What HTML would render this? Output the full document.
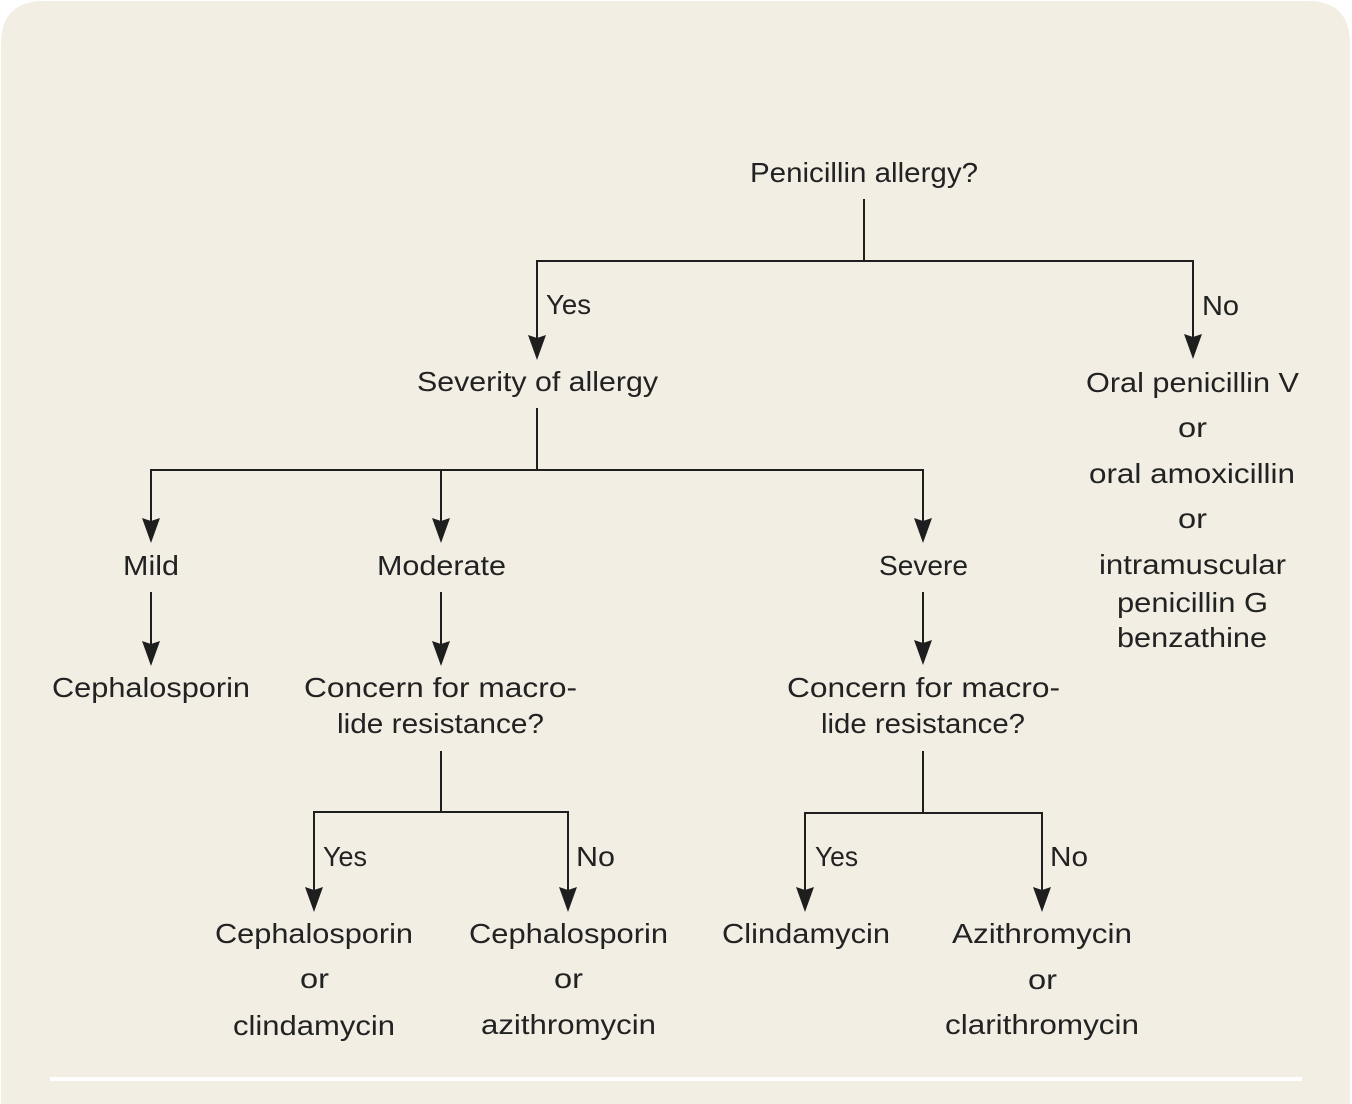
<!DOCTYPE html>
<html>
<head>
<meta charset="utf-8">
<style>
html,body{margin:0;padding:0;background:#ffffff;}
body{width:1352px;height:1104px;overflow:hidden;}
svg{display:block;}
text{font-family:"Liberation Sans", sans-serif;font-size:28px;fill:#222222;}
</style>
</head>
<body>
<svg width="1352" height="1104" viewBox="0 0 1352 1104" xmlns="http://www.w3.org/2000/svg">
  <path d="M1,1104 L1,44 Q1,1 44,1 L1308,1 Q1350,1 1350,44 L1350,1104 Z" fill="#f2eee4"/>
  <rect x="50" y="1077" width="1252" height="4" fill="#ffffff"/>

  <g stroke="#1e1e1e" stroke-width="2" fill="none">
    <line x1="864" y1="199" x2="864" y2="262"/>
    <line x1="537" y1="261" x2="1194" y2="261"/>
    <line x1="537" y1="260" x2="537" y2="345"/>
    <line x1="1193" y1="260" x2="1193" y2="345"/>

    <line x1="537" y1="408" x2="537" y2="471"/>
    <line x1="150" y1="470" x2="924" y2="470"/>
    <line x1="151" y1="469" x2="151" y2="528"/>
    <line x1="441" y1="469" x2="441" y2="528"/>
    <line x1="923" y1="469" x2="923" y2="528"/>

    <line x1="151" y1="592" x2="151" y2="650"/>
    <line x1="441" y1="592" x2="441" y2="650"/>
    <line x1="923" y1="592" x2="923" y2="650"/>

    <line x1="441" y1="751" x2="441" y2="813"/>
    <line x1="313" y1="812" x2="569" y2="812"/>
    <line x1="314" y1="811" x2="314" y2="897"/>
    <line x1="568" y1="811" x2="568" y2="897"/>

    <line x1="923" y1="751" x2="923" y2="814"/>
    <line x1="804" y1="813" x2="1043" y2="813"/>
    <line x1="805" y1="812" x2="805" y2="897"/>
    <line x1="1042" y1="812" x2="1042" y2="897"/>
  </g>

  <g fill="#1e1e1e">
    <path d="M528,335 L537,338 L546,335 L537,360 Z"/>
    <path d="M1184,334 L1193,337 L1202,334 L1193,359 Z"/>
    <path d="M142,518 L151,521 L160,518 L151,543 Z"/>
    <path d="M432,518 L441,521 L450,518 L441,543 Z"/>
    <path d="M914,518 L923,521 L932,518 L923,543 Z"/>
    <path d="M142,641 L151,644 L160,641 L151,666 Z"/>
    <path d="M432,641 L441,644 L450,641 L441,666 Z"/>
    <path d="M914,640 L923,643 L932,640 L923,665 Z"/>
    <path d="M305,887 L314,890 L323,887 L314,912 Z"/>
    <path d="M559,887 L568,890 L577,887 L568,912 Z"/>
    <path d="M796,887 L805,890 L814,887 L805,912 Z"/>
    <path d="M1033,887 L1042,890 L1051,887 L1042,912 Z"/>
  </g>

  <g>
    <text x="750" y="182" textLength="228" lengthAdjust="spacingAndGlyphs">Penicillin allergy?</text>
    <text x="546" y="314" textLength="45" lengthAdjust="spacingAndGlyphs">Yes</text>
    <text x="1202" y="315" textLength="37" lengthAdjust="spacingAndGlyphs">No</text>
    <text x="417" y="391" textLength="241" lengthAdjust="spacingAndGlyphs">Severity of allergy</text>

    <text x="1086" y="392" textLength="213" lengthAdjust="spacingAndGlyphs">Oral penicillin V</text>
    <text x="1178" y="437" textLength="29" lengthAdjust="spacingAndGlyphs">or</text>
    <text x="1089" y="483" textLength="206" lengthAdjust="spacingAndGlyphs">oral amoxicillin</text>
    <text x="1178" y="528" textLength="29" lengthAdjust="spacingAndGlyphs">or</text>
    <text x="1099" y="574" textLength="187" lengthAdjust="spacingAndGlyphs">intramuscular</text>
    <text x="1117" y="612" textLength="151" lengthAdjust="spacingAndGlyphs">penicillin G</text>
    <text x="1117" y="647" textLength="150" lengthAdjust="spacingAndGlyphs">benzathine</text>

    <text x="123" y="575" textLength="56" lengthAdjust="spacingAndGlyphs">Mild</text>
    <text x="377" y="575" textLength="129" lengthAdjust="spacingAndGlyphs">Moderate</text>
    <text x="879" y="575" textLength="89" lengthAdjust="spacingAndGlyphs">Severe</text>

    <text x="52" y="697" textLength="198" lengthAdjust="spacingAndGlyphs">Cephalosporin</text>
    <text x="304" y="697" textLength="273" lengthAdjust="spacingAndGlyphs">Concern for macro-</text>
    <text x="337" y="733" textLength="207" lengthAdjust="spacingAndGlyphs">lide resistance?</text>
    <text x="787" y="697" textLength="273" lengthAdjust="spacingAndGlyphs">Concern for macro-</text>
    <text x="821" y="733" textLength="204" lengthAdjust="spacingAndGlyphs">lide resistance?</text>

    <text x="323" y="866" textLength="44" lengthAdjust="spacingAndGlyphs">Yes</text>
    <text x="576" y="866" textLength="39" lengthAdjust="spacingAndGlyphs">No</text>
    <text x="815" y="866" textLength="43" lengthAdjust="spacingAndGlyphs">Yes</text>
    <text x="1050" y="866" textLength="38" lengthAdjust="spacingAndGlyphs">No</text>

    <text x="215" y="943" textLength="198" lengthAdjust="spacingAndGlyphs">Cephalosporin</text>
    <text x="300" y="988" textLength="29" lengthAdjust="spacingAndGlyphs">or</text>
    <text x="233" y="1035" textLength="162" lengthAdjust="spacingAndGlyphs">clindamycin</text>

    <text x="469" y="943" textLength="199" lengthAdjust="spacingAndGlyphs">Cephalosporin</text>
    <text x="554" y="988" textLength="29" lengthAdjust="spacingAndGlyphs">or</text>
    <text x="481" y="1034" textLength="175" lengthAdjust="spacingAndGlyphs">azithromycin</text>

    <text x="722" y="943" textLength="168" lengthAdjust="spacingAndGlyphs">Clindamycin</text>

    <text x="952" y="943" textLength="180" lengthAdjust="spacingAndGlyphs">Azithromycin</text>
    <text x="1028" y="989" textLength="29" lengthAdjust="spacingAndGlyphs">or</text>
    <text x="945" y="1034" textLength="194" lengthAdjust="spacingAndGlyphs">clarithromycin</text>
  </g>
</svg>
</body>
</html>
